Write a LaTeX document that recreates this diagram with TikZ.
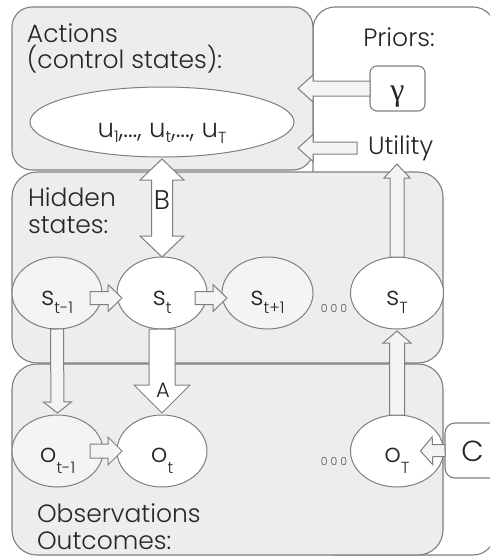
\documentclass[tikz,border=0pt]{standalone}
\usepackage{fontspec}
\setmainfont{Poppins Light}
\newfontfamily\gamfont{Liberation Serif}
\usetikzlibrary{calc,shapes.geometric}
\definecolor{edge}{HTML}{7F7F7F}
\definecolor{boxbg}{HTML}{EDEDED}
\definecolor{lite}{HTML}{F4F4F4}
\definecolor{ink}{HTML}{262626}
\newcommand\lowsub[2]{\raisebox{-#1}{\fontsize{16pt}{16pt}\selectfont #2}}
\newcommand\blkarrow[6]{%
  \coordinate (bkA) at #2;
  \coordinate (bkB) at #3;
  \coordinate (bkH) at ($(bkB)!#6!(bkA)$);
  \draw[#1] ($(bkA)!#4!90:(bkB)$) -- ($(bkH)!#4!90:(bkB)$) -- ($(bkH)!#5!90:(bkB)$) -- (bkB)
    -- ($(bkH)!#5!-90:(bkB)$) -- ($(bkH)!#4!-90:(bkB)$) -- ($(bkA)!#4!-90:(bkB)$) -- cycle;}
\newcommand\dblarrow[6]{%
  \coordinate (bkA) at #2;
  \coordinate (bkB) at #3;
  \coordinate (bkH) at ($(bkB)!#6!(bkA)$);
  \coordinate (bkG) at ($(bkA)!#6!(bkB)$);
  \draw[#1] (bkA) -- ($(bkG)!#5!90:(bkB)$) -- ($(bkG)!#4!90:(bkB)$) -- ($(bkH)!#4!90:(bkB)$) -- ($(bkH)!#5!90:(bkB)$) -- (bkB)
    -- ($(bkH)!#5!-90:(bkB)$) -- ($(bkH)!#4!-90:(bkB)$) -- ($(bkG)!#4!-90:(bkB)$) -- ($(bkG)!#5!-90:(bkB)$) -- cycle;}
\begin{document}
\begin{tikzpicture}[x=1pt,y=-1pt,
  panel/.style={draw=edge, line width=1.1pt, fill=boxbg, inner sep=0pt, outer sep=0pt, rounded corners=22pt},
  whitepanel/.style={panel, fill=white},
  smallbox/.style={draw=edge, line width=1.1pt, fill=white, inner sep=0pt, outer sep=0pt},
  var/.style={ellipse, draw=edge, line width=1pt, fill=white, inner sep=0pt, outer sep=0pt},
  litevar/.style={var, fill=lite},
  txt/.style={text=ink, inner sep=0pt, outer sep=0pt, font=\fontsize{25pt}{28pt}\selectfont},
  vlab/.style={txt, anchor=base, font=\fontsize{26pt}{28pt}\selectfont},
  dots/.style={text=ink!80, inner sep=0pt, font=\fontsize{11pt}{12pt}\selectfont},
  litearrow/.style={draw=edge, line width=1pt, fill=lite},
  whitearrow/.style={draw=edge, line width=1pt, fill=white}
]
\useasboundingbox (0,0) rectangle (490,557);
% panels
\node[whitepanel, minimum width=182pt, minimum height=548pt] (pri) at (404,281) {};
\node[panel, minimum width=301pt, minimum height=163pt, rounded corners=20pt] (act) at (162.5,88.5) {};
\node[panel, minimum width=431pt, minimum height=191pt, rounded corners=25pt] (hid) at (227.5,267.5) {};
\node[panel, minimum width=431pt, minimum height=191pt, rounded corners=25pt] (obs) at (227.5,459.5) {};
\node[smallbox, rounded corners=7pt, minimum width=55pt, minimum height=45pt] (gam) at (397.5,88.5) {};
\node[smallbox, rounded corners=10pt, minimum width=60pt, minimum height=55pt] (cbox) at (475,450.5) {};
% variables
\node[var, minimum width=264pt, minimum height=70pt] (u) at (162,122) {};
\node[litevar, minimum width=90pt, minimum height=72pt] (s1) at (57,293) {};
\node[var, minimum width=90pt, minimum height=72pt] (s2) at (162,293) {};
\node[litevar, minimum width=91pt, minimum height=72pt] (s3) at (267.5,293) {};
\node[var, minimum width=93pt, minimum height=72pt] (sT) at (397,293) {};
\node[litevar, minimum width=91pt, minimum height=72pt] (o1) at (57.5,451) {};
\node[var, minimum width=90pt, minimum height=72pt] (o2) at (162,451) {};
\node[var, minimum width=93pt, minimum height=72pt] (oT) at (397,451) {};
% texts
\node[txt, anchor=base west] (tact1) at (27,42) {Actions};
\node[txt, anchor=base west] (tact2) at (27,68) {(control states):};
\node[txt, anchor=base] (tpri) at (399,46) {Priors:};
\node[txt, anchor=base west] (util) at (368,154) {Utility};
\node[txt, anchor=base west] (thid1) at (28,206) {Hidden};
\node[txt, anchor=base west] (thid2) at (28,233) {states:};
\node[txt, anchor=base west] (tobs1) at (37,522) {Observations};
\node[txt, anchor=base west] (tobs2) at (37,549) {Outcomes:};
\node[text=ink, inner sep=0pt, anchor=base, font=\gamfont\fontsize{32pt}{32pt}\selectfont] (tgam) at (gam.center |- 0,100) {γ};
\node[txt, anchor=base, font=\fontsize{29pt}{29pt}\selectfont] (tc) at (472.5,461) {C};
% arrows
\blkarrow{litearrow}{(gam.west)}{($(act.east)+(-15,0)$)}{7.5pt}{13.5pt}{15pt}
\blkarrow{litearrow}{($(util.base west)+(-11,-6)$)}{($(act.east |- util.base west)+(-15,-6)$)}{6pt}{13.5pt}{15pt}
\blkarrow{litearrow}{(sT.north)}{($(sT.north |- hid.north)+(0,-8)$)}{7pt}{13pt}{14pt}
\blkarrow{litearrow}{(oT.north)}{($(sT.south)+(0,2)$)}{7.5pt}{14pt}{12pt}
\blkarrow{litearrow}{(cbox.west)}{($(oT.east)+(-23,0)$)}{6pt}{14pt}{12pt}
\blkarrow{litearrow}{($(s1.east)+(-12,5)$)}{($(s2.west)+(5,5)$)}{6.5pt}{13.5pt}{14pt}
\blkarrow{litearrow}{($(s2.east)+(-12,5)$)}{($(s3.west)+(5,5)$)}{6.5pt}{13.5pt}{14pt}
\blkarrow{litearrow}{($(o1.east)+(-13,0)$)}{($(o2.west)+(5,0)$)}{7pt}{14pt}{14pt}
\blkarrow{litearrow}{(s1.south)}{($(o1.north)+(0,-2)$)}{6.5pt}{14pt}{11pt}
\blkarrow{whitearrow}{(s2.south)}{($(o2.north)+(0,-2)$)}{13pt}{28pt}{28pt}
\dblarrow{whitearrow}{($(u.south)+(0,2)$)}{(s2.north)}{10.5pt}{22pt}{21pt}
\node[txt, anchor=base, font=\fontsize{27pt}{27pt}\selectfont] (tB) at (162,209) {B};
\node[txt, anchor=base, font=\fontsize{21pt}{21pt}\selectfont] (tA) at (163,397) {A};
% variable labels
\node[vlab] (lu) at (162,137) {u\lowsub{5pt}{1},..., u\lowsub{5pt}{t},..., u\lowsub{6pt}{T}};
\node[vlab] (ls1) at (57,305) {s\lowsub{8pt}{t-1}};
\node[vlab] (ls2) at (162,305) {s\lowsub{8pt}{t}};
\node[vlab] (ls3) at (267.5,305) {s\lowsub{8pt}{t+1}};
\node[vlab] (lsT) at (397,305) {s\lowsub{8pt}{T}};
\node[vlab] (lo1) at (57.5,462) {o\lowsub{11pt}{t-1}};
\node[vlab] (lo2) at (162,462) {o\lowsub{11pt}{t}};
\node[vlab] (loT) at (397,462) {o\lowsub{11pt}{T}};
\node[dots, anchor=base] (d1) at (334,312) {0 0 0};
\node[dots, anchor=base] (d2) at (334,465) {0 0 0};
\end{tikzpicture}
\end{document}
